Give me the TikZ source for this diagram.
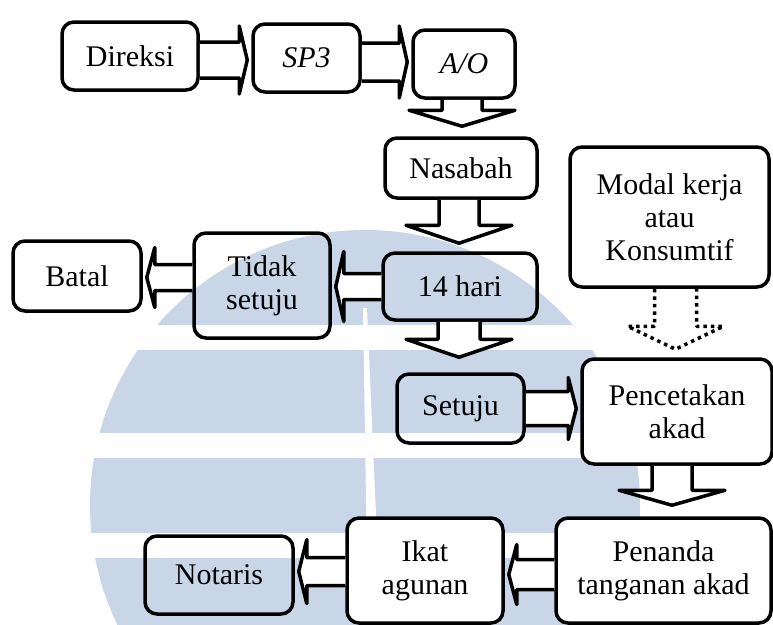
\documentclass[tikz,border=0pt]{standalone}
\usepackage{fontspec}
\setmainfont{Liberation Serif}
\usetikzlibrary{calc}
\definecolor{wmblue}{RGB}{200,214,232}
\tikzset{
  box/.style={draw=black, line width=3.5pt, rounded corners=12pt, align=center,
    inner sep=0pt, font=\fontsize{30}{33}\selectfont},
  solidbox/.style={box, fill=white},
  blk/.style={draw=black, fill=white, line width=3.5pt, line join=round},
  dotblk/.style={draw=black, line width=3.5pt, dash pattern=on 3.5pt off 4pt, line join=round},
}
% block arrow pointing right: source, target, shaft half-height, head half-height, y shift
\newcommand\arrowR[5]{%
  \path[blk] let \p1=(#1.east), \p2=(#2.west) in
   (\x1,\y1+#5+#3) -- (\x2-12pt,\y1+#5+#3) -- (\x2-12pt,\y1+#5+#4) -- (\x2-4pt,\y1+#5)
   -- (\x2-12pt,\y1+#5-#4) -- (\x2-12pt,\y1+#5-#3) -- (\x1,\y1+#5-#3);}
% block arrow pointing left
\newcommand\arrowL[5]{%
  \path[blk] let \p1=(#1.west), \p2=(#2.east) in
   (\x1,\y1+#5+#3) -- (\x2+12pt,\y1+#5+#3) -- (\x2+12pt,\y1+#5+#4) -- (\x2+4pt,\y1+#5)
   -- (\x2+12pt,\y1+#5-#4) -- (\x2+12pt,\y1+#5-#3) -- (\x1,\y1+#5-#3);}
% block arrow pointing down: [style] source, target, shaft half-width, head half-width,
% x shift, head base above target, tip above target
\newcommand\arrowD[8][blk]{%
  \path[#1] let \p1=(#2.south), \p2=(#3.north) in
   (\x1+#6-#4,\y1) -- (\x1+#6-#4,\y2+#7) -- (\x1+#6-#5,\y2+#7) -- (\x1+#6,\y2+#8)
   -- (\x1+#6+#5,\y2+#7) -- (\x1+#6+#4,\y2+#7) -- (\x1+#6+#4,\y1);}

\begin{document}
\begin{tikzpicture}[x=1pt,y=-1pt]
\useasboundingbox (0,0) rectangle (773,624);
\clip (0,0) rectangle (773,624);

% background emblem
\begin{scope}
  \clip (365,505) circle (275);
  \fill[wmblue] (0,200) rectangle (773,325);
  \fill[wmblue] (0,350) rectangle (773,433);
  \fill[wmblue] (0,458) rectangle (773,533);
  \fill[wmblue] (0,558) rectangle (773,630);
  \fill[white] (363,308) -- (367,308) -- (381,630) -- (368,630) -- cycle;
\end{scope}

% boxes
\node[box, minimum width=136pt, minimum height=68pt] (direksi) at (130,56) {Direksi};
\node[box, minimum width=107pt, minimum height=68pt] (sp3) at (306.5,58) {\itshape SP3};
\node[box, minimum width=102pt, minimum height=68pt] (ao) at (464,64) {\itshape A/O};
\node[box, minimum width=152pt, minimum height=60pt] (nasabah) at (461,168) {Nasabah};
\node[solidbox, minimum width=199pt, minimum height=140pt] (modal) at (669.5,217)
  {Modal kerja\\atau\\Konsumtif};
\node[box, minimum width=128pt, minimum height=70pt] (batal) at (77,276) {Batal};
\node[box, minimum width=136pt, minimum height=105pt] (tidak) at (262,285.5) {Tidak\\setuju};
\node[box, minimum width=154pt, minimum height=67pt] (hari) at (460,286.5) {14 hari};
\node[box, minimum width=127pt, minimum height=69pt] (setuju) at (460.5,408.5) {Setuju};
\node[solidbox, minimum width=190pt, minimum height=105pt] (pencetakan) at (677,411.5)
  {Pencetakan\\akad};
\node[solidbox, minimum width=215pt, minimum height=105pt] (penanda) at (663.5,570.5)
  {Penanda\\tanganan akad};
\node[solidbox, minimum width=156pt, minimum height=105pt] (ikat) at (425,570.5) {Ikat\\agunan};
\node[box, minimum width=148pt, minimum height=78pt] (notaris) at (219,575) {Notaris};

% connectors
\arrowR{direksi}{sp3}{18pt}{34pt}{-4pt}
\arrowR{sp3}{ao}{19pt}{36pt}{-4pt}
\arrowD{ao}{nasabah}{20pt}{53pt}{-2pt}{26pt}{10pt}
\arrowD{nasabah}{hari}{20pt}{53pt}{-2pt}{26pt}{8pt}
\arrowL{hari}{tidak}{13pt}{35pt}{0pt}
\arrowL{tidak}{batal}{13pt}{30pt}{8pt}
\arrowD{hari}{setuju}{21pt}{53pt}{-1pt}{33pt}{15pt}
\arrowR{setuju}{pencetakan}{17pt}{31pt}{0pt}
\arrowD[dotblk]{modal}{pencetakan}{21pt}{48pt}{6pt}{31pt}{8pt}
\arrowD{pencetakan}{penanda}{20pt}{53pt}{-5pt}{26pt}{11pt}
\arrowL{penanda}{ikat}{15pt}{30pt}{-4pt}
\arrowL{ikat}{notaris}{14pt}{32pt}{-1pt}
\end{tikzpicture}
\end{document}
